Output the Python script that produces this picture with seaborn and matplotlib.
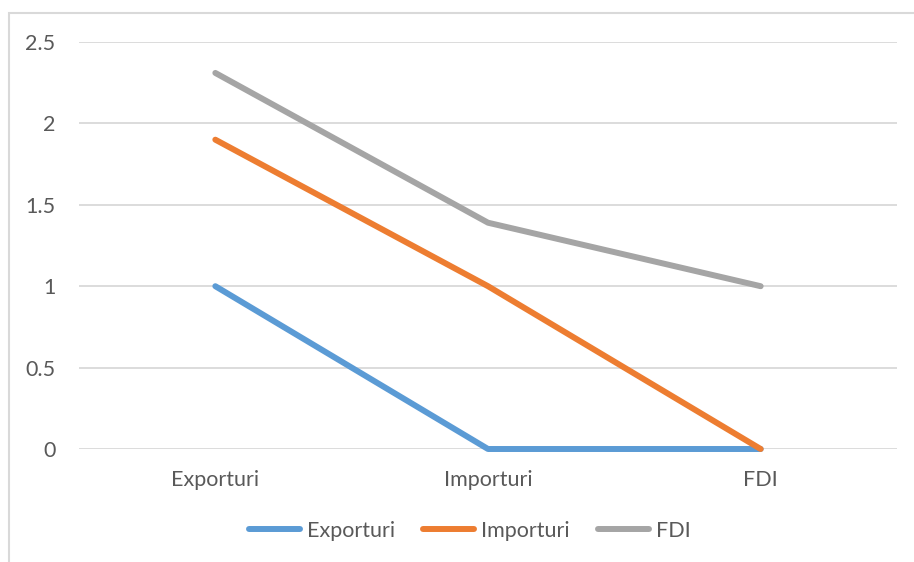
import matplotlib
matplotlib.use("Agg")
import matplotlib.pyplot as plt
import matplotlib.patches as mpatches
import seaborn as sns
import pandas as pd

categories = ["Exporturi", "Importuri", "FDI"]
series_names = ["Exporturi", "Importuri", "FDI"]
exporturi = [1.0, 0.0, 0.0]
importuri = [1.9, 1.0, 0.0]
fdi = [2.31, 1.39, 1.0]
y_ticks = [0, 0.5, 1, 1.5, 2, 2.5]
y_tick_labels = ["0", "0.5", "1", "1.5", "2", "2.5"]
colors = ["#5B9BD5", "#ED7D31", "#A5A5A5"]

rows = []
for name, vals in zip(series_names, [exporturi, importuri, fdi]):
    for i, (cat, v) in enumerate(zip(categories, vals)):
        rows.append({"pos": i, "cat": cat, "serie": name, "val": v})
df = pd.DataFrame(rows)

sns.set_theme(style="white")
plt.rcParams["font.family"] = ["Lato", "DejaVu Sans"]
FS = 15.5

fig = plt.figure(figsize=(9.14, 5.62), dpi=100)
ax = fig.add_axes([79 / 914, 1 - 449 / 562, (897 - 79) / 914, (449 - 42) / 562])

# outer chart frame
frame = mpatches.Rectangle((8.5 / 914, -0.1), 1.2, 1 - 13 / 562 + 0.1,
                           transform=fig.transFigure, fill=False,
                           edgecolor="#d9d9d9", linewidth=1.5, zorder=0)
fig.patches.append(frame)

sns.lineplot(data=df, x="pos", y="val", hue="serie", hue_order=series_names,
             palette=colors, linewidth=4.3, ax=ax, legend=False,
             sort=False)
for ln in ax.lines:
    ln.set_solid_capstyle("round")
    ln.set_solid_joinstyle("round")
    ln.set_clip_on(False)
    ln.set_zorder(3)

ax.set_xlim(-0.5, 2.5)
ax.set_ylim(0, 2.5)
ax.set_yticks(y_ticks)
ax.set_yticklabels(y_tick_labels)
ax.set_xticks(range(len(categories)))
ax.set_xticklabels(categories)
ax.set_xlabel("")
ax.set_ylabel("")
for s in ax.spines.values():
    s.set_visible(False)
ax.grid(axis="y", color="#d9d9d9", linewidth=1.3, zorder=0)
ax.grid(axis="x", visible=False)
ax.tick_params(axis="both", length=0, labelsize=FS, labelcolor="#595959")
ax.tick_params(axis="y", pad=17)
ax.tick_params(axis="x", pad=15)

handles = [plt.Line2D([0], [0], color=c, linewidth=4.3, solid_capstyle="round")
           for c in colors]
leg = fig.legend(handles, series_names, loc="center", bbox_to_anchor=(470 / 914, 1 - 531 / 562),
                 ncol=3, frameon=False, fontsize=FS, handlelength=2.35,
                 handletextpad=0.35, columnspacing=1.3)
for t in leg.get_texts():
    t.set_color("#595959")

fig.savefig("out.png", dpi=100)
